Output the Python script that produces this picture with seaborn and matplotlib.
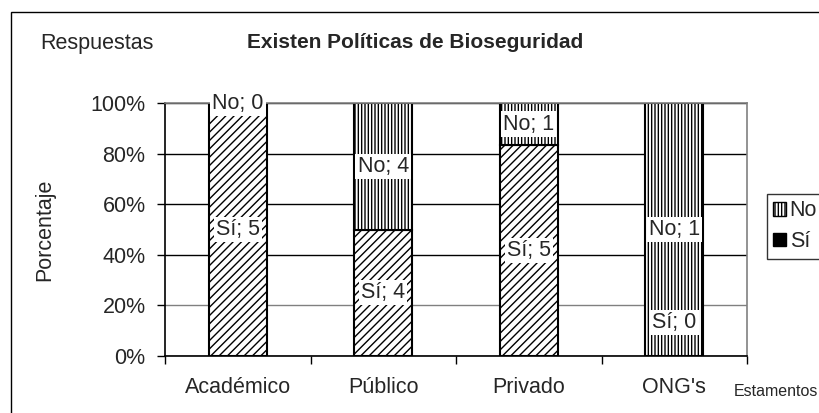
import pandas as pd
import matplotlib
matplotlib.use("Agg")
import matplotlib.pyplot as plt
from matplotlib.patches import Patch, Rectangle
from matplotlib.ticker import PercentFormatter
import seaborn as sns

# datos
estamentos = ["Académico", "Público", "Privado", "ONG's"]
si = [5, 4, 5, 0]
no = [0, 4, 1, 1]

sns.set_theme(style="white")
plt.rcParams['font.family'] = ['Liberation Sans', 'DejaVu Sans']
plt.rcParams['hatch.linewidth'] = 1.0

df = pd.DataFrame({"Estamento": estamentos, "Si": si, "No": no})
df["Total"] = df["Si"] + df["No"]
df["Si_pct"] = df["Si"] / df["Total"]
df["No_pct"] = df["No"] / df["Total"]

fs = 15.5

fig = plt.figure(figsize=(8.2, 4.13), dpi=100)
ax = fig.add_axes([165 / 820, 1 - 356 / 413, 582 / 820, 253 / 413])

sns.barplot(data=df, x="Estamento", y="Si_pct", color="white", saturation=1,
            edgecolor="black", linewidth=1.5, hatch="////", width=0.4,
            errorbar=None, ax=ax)
sns.barplot(data=df, x="Estamento", y="No_pct", color="white", saturation=1,
            edgecolor="black", linewidth=1.5, hatch="|||||", width=0.4,
            bottom=df["Si_pct"], errorbar=None, ax=ax)

ax.set_xlim(-0.5, 3.5)
ax.set_ylim(0, 1)
ax.set_yticks([0, 0.2, 0.4, 0.6, 0.8, 1.0])
ax.yaxis.set_major_formatter(PercentFormatter(1, decimals=0))
ax.set_xticks(range(len(estamentos)))
ax.set_xticklabels(estamentos)
ax.set_xticks([i - 0.5 for i in range(len(estamentos) + 1)], minor=True)
ax.tick_params(axis="x", which="major", length=0, pad=15, labelsize=fs)
ax.tick_params(axis="x", which="minor", length=6, width=1, color="black", direction="out", bottom=True)
ax.tick_params(axis="y", length=6, width=1, color="black", direction="out", left=True, pad=8, labelsize=fs)
ax.set_xlabel("")
ax.set_ylabel("")

ax.set_axisbelow(True)
ax.yaxis.grid(True, color="black", linewidth=1)
ax.get_ygridlines()[1].set_color("#808080")
for s in ["left", "bottom"]:
    ax.spines[s].set_color("black")
    ax.spines[s].set_linewidth(1.2)
for s in ["top", "right"]:
    ax.spines[s].set_color("#808080")
    ax.spines[s].set_linewidth(1.2)

# etiquetas de datos
for i, row in df.iterrows():
    for nombre, val, pct, base in [("Sí", row["Si"], row["Si_pct"], 0),
                                   ("No", row["No"], row["No_pct"], row["Si_pct"])]:
        y = base + pct / 2
        off = 24 if (pct == 0 and base == 0) else 0
        ax.annotate(f"{nombre}; {val}", (i, y), xytext=(0, off), textcoords="offset points",
                    ha="center", va="center", fontsize=fs,
                    bbox=dict(boxstyle="square,pad=0.1", facecolor="white", edgecolor="none"))

fig.text(40 / 820, 1 - 43 / 413, "Respuestas", ha="left", va="center", fontsize=fs)
fig.text(247 / 820, 1 - 43 / 413, "Existen Políticas de Bioseguridad", ha="left", va="center",
         fontsize=15, fontweight="bold")
fig.text(45 / 820, 1 - 230 / 413, "Porcentaje", rotation=90, ha="center", va="center", fontsize=fs)
fig.text(734 / 820, 1 - 391 / 413, "Estamentos", ha="left", va="center", fontsize=11.5)

handles = [Patch(facecolor="white", edgecolor="black", hatch="|||||", label="No"),
           Patch(facecolor="black", edgecolor="black", label="Sí")]
leg = fig.legend(handles=handles, loc="upper left", bbox_to_anchor=(767 / 820, 1 - 194 / 413),
                 fontsize=fs, frameon=True, fancybox=False, borderpad=0.3, labelspacing=0.45,
                 handlelength=0.6, handleheight=0.6, handletextpad=0.15, borderaxespad=0)
leg.get_frame().set_edgecolor("black")
leg.get_frame().set_linewidth(1)

# marco del gráfico
fig.patches.append(Rectangle((11 / 820, -0.2), 1.2, 1.2 - 12 / 413, transform=fig.transFigure,
                             fill=False, edgecolor="black", linewidth=1))

fig.savefig("out.png", dpi=100)
plt.close(fig)
